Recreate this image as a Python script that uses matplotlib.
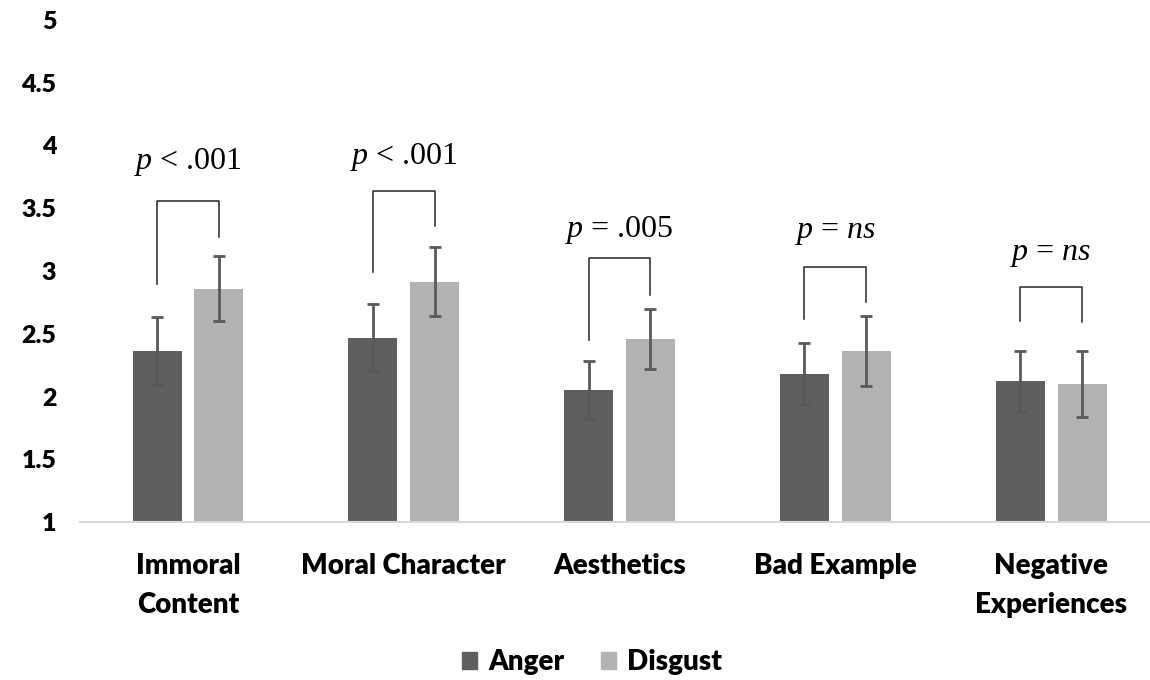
import matplotlib
matplotlib.use('Agg')
import matplotlib.pyplot as plt
import numpy as np
from matplotlib.patches import Patch

# data
categories = ['Immoral\nContent', 'Moral Character', 'Aesthetics', 'Bad Example', 'Negative\nExperiences']
anger = [2.36, 2.47, 2.05, 2.18, 2.12]
disgust = [2.86, 2.915, 2.46, 2.36, 2.10]
anger_err = [0.27, 0.27, 0.23, 0.245, 0.245]
disgust_err = [0.26, 0.275, 0.24, 0.28, 0.26]

# significance brackets
p_labels = [r'$\it{p}$ < .001', r'$\it{p}$ < .001', r'$\it{p}$ = .005',
            r'$\it{p}$ = $\it{ns}$', r'$\it{p}$ = $\it{ns}$']
bracket_top = [3.56, 3.64, 3.10, 3.03, 2.87]
left_leg_end = [2.90, 2.99, 2.45, 2.62, 2.60]
right_leg_end = [3.27, 3.36, 2.81, 2.75, 2.59]
label_y = [3.87, 3.91, 3.33, 3.31, 3.13]

anger_color = '#5f5f5f'
disgust_color = '#b2b2b2'

plt.rcParams['font.family'] = ['Lato', 'DejaVu Sans']
plt.rcParams['mathtext.fontset'] = 'custom'
plt.rcParams['mathtext.it'] = 'Liberation Serif:italic'
plt.rcParams['mathtext.rm'] = 'Liberation Serif'

fig = plt.figure(figsize=(11.5, 6.8), dpi=100)
ax = fig.add_axes([80 / 1150, 1 - 522 / 680, 1 - 80 / 1150, (522 - 20) / 680])

x = np.arange(len(categories))
off = 0.143
w = 0.227
ax.bar(x - off, anger, w, color=anger_color, zorder=2)
ax.bar(x + off, disgust, w, color=disgust_color, zorder=2)
ax.errorbar(x - off, anger, yerr=anger_err, fmt='none', ecolor='#595959',
            elinewidth=2, capsize=4, capthick=2, zorder=3)
ax.errorbar(x + off, disgust, yerr=disgust_err, fmt='none', ecolor='#595959',
            elinewidth=2, capsize=4, capthick=2, zorder=3)

for i in range(len(categories)):
    xl, xr = x[i] - off, x[i] + off
    ax.plot([xl, xl, xr, xr], [left_leg_end[i], bracket_top[i], bracket_top[i], right_leg_end[i]],
            color='#262626', lw=1.1, zorder=4)
    ax.text(x[i], label_y[i], p_labels[i], ha='center', va='center',
            fontsize=23, family='Liberation Serif', color='black')

ax.set_ylim(1, 5)
ax.set_xlim(-0.5, 4.458)
ax.set_yticks([1, 1.5, 2, 2.5, 3, 3.5, 4, 4.5, 5])
ax.set_yticklabels(['1', '1.5', '2', '2.5', '3', '3.5', '4', '4.5', '5'],
                   fontsize=18, fontweight='heavy')
ax.set_xticks(x)
ax.set_xticklabels(categories, fontsize=20, fontweight='heavy', linespacing=1.62, va='top')
ax.tick_params(axis='y', length=0, pad=17)
ax.tick_params(axis='x', length=0, pad=22)
for s in ['top', 'right', 'left']:
    ax.spines[s].set_visible(False)
ax.spines['bottom'].set_color('#d9d9d9')
ax.spines['bottom'].set_linewidth(1.5)

handles = [Patch(color=anger_color, label='Anger'), Patch(color=disgust_color, label='Disgust')]
fig.legend(handles=handles, loc='center', bbox_to_anchor=(592 / 1150, 1 - 662 / 680), ncol=2,
           frameon=False, prop={'size': 20, 'weight': 'heavy'},
           handlelength=0.55, handleheight=0.55, handletextpad=0.4, columnspacing=1.3)

fig.savefig('out.png', dpi=100)
